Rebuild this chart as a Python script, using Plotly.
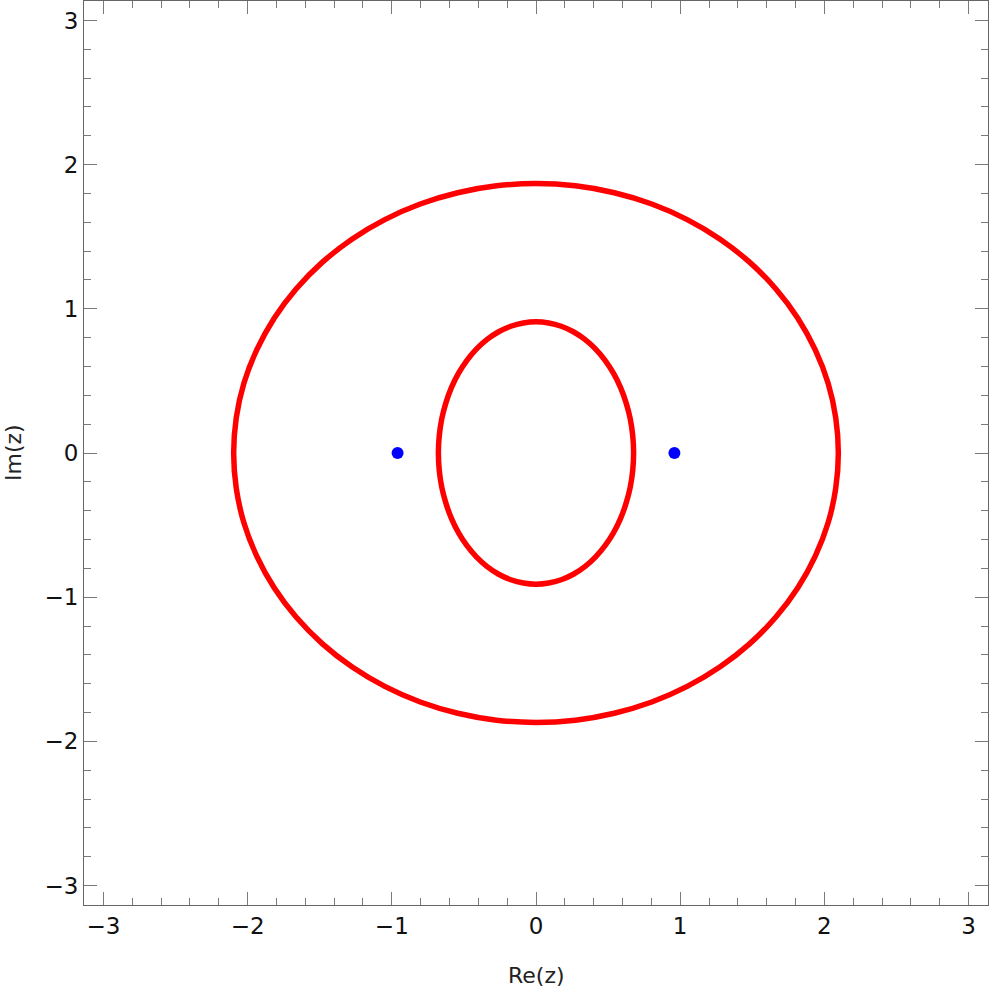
import plotly.graph_objects as go

# Outer closed curve: first-quadrant points (Re, Im)
outer_q_x = [2.097, 2.079, 2.026, 1.937, 1.816, 1.664, 1.483, 1.277, 1.049, 0.803, 0.543, 0.274, 0.000]
outer_q_y = [0.000, 0.244, 0.484, 0.715, 0.935, 1.138, 1.322, 1.483, 1.619, 1.727, 1.805, 1.853, 1.869]

# Inner closed curve: first-quadrant points
inner_q_x = [0.677, 0.671, 0.654, 0.625, 0.586, 0.537, 0.479, 0.412, 0.339, 0.259, 0.175, 0.088, 0.000]
inner_q_y = [0.000, 0.119, 0.236, 0.348, 0.455, 0.554, 0.643, 0.722, 0.788, 0.841, 0.879, 0.902, 0.910]

# Marked points
pts_x = [-0.96, 0.96]
pts_y = [0.0, 0.0]

tick_vals = [-3, -2, -1, 0, 1, 2, 3]
tick_text = ["\u22123", "\u22122", "\u22121", "0", "1", "2", "3"]


def full_loop(qx, qy):
    # reflect quadrant readings into the other three quadrants (curve is symmetric)
    xs = list(qx) + [-v for v in qx[::-1][1:]]
    ys = list(qy) + list(qy[::-1][1:])
    xs2 = xs + xs[::-1][1:]
    ys2 = ys + [-v for v in ys[::-1][1:]]
    return xs2, ys2


ox, oy = full_loop(outer_q_x, outer_q_y)
ix, iy = full_loop(inner_q_x, inner_q_y)

fig = go.Figure()
for xs, ys in [(ox, oy), (ix, iy)]:
    fig.add_trace(go.Scatter(x=xs, y=ys, mode="lines",
                             line=dict(color="#ff0000", width=5.5, shape="spline", smoothing=0.7),
                             hoverinfo="skip", showlegend=False))
fig.add_trace(go.Scatter(x=pts_x, y=pts_y, mode="markers", marker=dict(color="#0000ff", size=12),
                         showlegend=False))
# invisible trace that carries the mirrored (top / right) frame axes
fig.add_trace(go.Scatter(x=[0], y=[0], xaxis="x2", yaxis="y2", mode="markers",
                         marker=dict(opacity=0), hoverinfo="skip", showlegend=False))

RANGE = [-3.135, 3.135]
TCOL = "#7a7a7a"


def axis(side_labels=True):
    return dict(
        range=RANGE, tickmode="array", tickvals=tick_vals, ticktext=tick_text,
        ticks="inside", ticklen=13, tickwidth=1, tickcolor=TCOL, showline=True, linecolor="#666",
        linewidth=1, showgrid=False, zeroline=False, automargin=False,
        showticklabels=side_labels,
        tickfont=dict(family="DejaVu Sans", size=23, color="#111"),
        minor=dict(dtick=0.2, tick0=0, ticks="inside", ticklen=7, tickcolor=TCOL, tickwidth=1, showgrid=False),
    )


fig.update_layout(
    width=996, height=993, margin=dict(l=84, r=8, t=1, b=88),
    paper_bgcolor="white", plot_bgcolor="white",
    xaxis=axis(True), yaxis=axis(True),
    xaxis2=dict(axis(False), overlaying="x", side="top", anchor="y2"),
    yaxis2=dict(axis(False), overlaying="y", side="right", anchor="x2"),
    annotations=[
        dict(text="Re(z)", xref="paper", yref="paper", x=0.5, y=0, xanchor="center", yanchor="middle",
             yshift=-70, showarrow=False, font=dict(family="DejaVu Sans", size=22, color="#222")),
        dict(text="Im(z)", xref="paper", yref="paper", x=0, y=0.5, xanchor="center", yanchor="middle",
             xshift=-71, textangle=-90, showarrow=False, font=dict(family="DejaVu Sans", size=22, color="#222")),
    ],
)

fig.write_html("out.html", config={"displayModeBar": False},
               post_script="document.body.style.margin='0';document.body.style.overflow='hidden';")
